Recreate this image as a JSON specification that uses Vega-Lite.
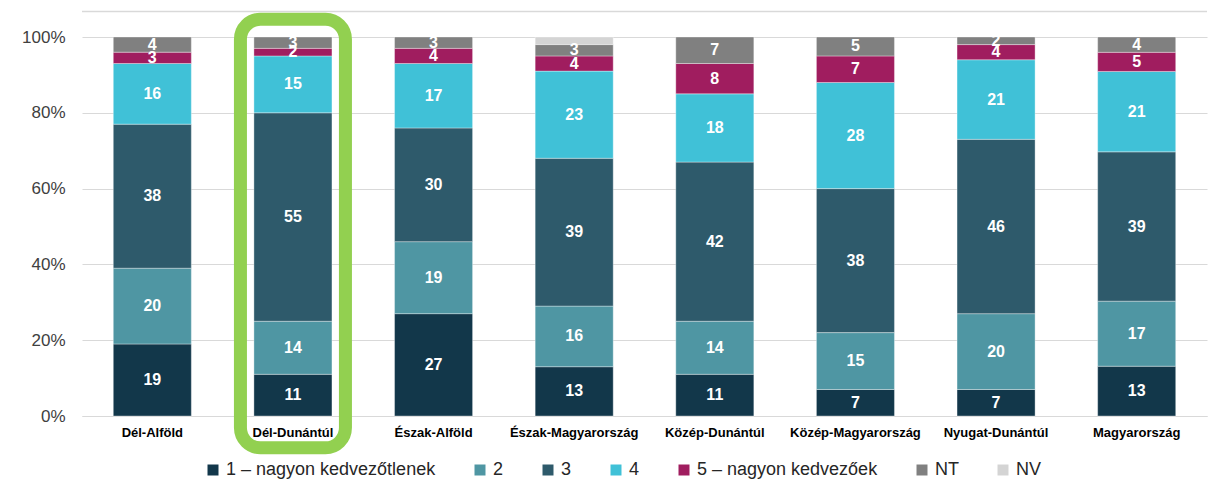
{
  "$schema": "https://vega.github.io/schema/vega-lite/v6.json",
  "width": 1125,
  "height": 379,
  "autosize": {"type": "none"},
  "padding": {"left": 82, "top": 37, "right": 1, "bottom": 78},
  "background": "#ffffff",
  "config": {"font": "Liberation Sans", "view": {"stroke": null}},
  "data": {
    "values": [
      {"r": "Dél-Alföld", "s": "1", "v": 19}, {"r": "Dél-Alföld", "s": "2", "v": 20}, {"r": "Dél-Alföld", "s": "3", "v": 38}, {"r": "Dél-Alföld", "s": "4", "v": 16}, {"r": "Dél-Alföld", "s": "5", "v": 3}, {"r": "Dél-Alföld", "s": "NT", "v": 4},
      {"r": "Dél-Dunántúl", "s": "1", "v": 11}, {"r": "Dél-Dunántúl", "s": "2", "v": 14}, {"r": "Dél-Dunántúl", "s": "3", "v": 55}, {"r": "Dél-Dunántúl", "s": "4", "v": 15}, {"r": "Dél-Dunántúl", "s": "5", "v": 2}, {"r": "Dél-Dunántúl", "s": "NT", "v": 3},
      {"r": "Észak-Alföld", "s": "1", "v": 27}, {"r": "Észak-Alföld", "s": "2", "v": 19}, {"r": "Észak-Alföld", "s": "3", "v": 30}, {"r": "Észak-Alföld", "s": "4", "v": 17}, {"r": "Észak-Alföld", "s": "5", "v": 4}, {"r": "Észak-Alföld", "s": "NT", "v": 3},
      {"r": "Észak-Magyarország", "s": "1", "v": 13}, {"r": "Észak-Magyarország", "s": "2", "v": 16}, {"r": "Észak-Magyarország", "s": "3", "v": 39}, {"r": "Észak-Magyarország", "s": "4", "v": 23}, {"r": "Észak-Magyarország", "s": "5", "v": 4}, {"r": "Észak-Magyarország", "s": "NT", "v": 3}, {"r": "Észak-Magyarország", "s": "NV", "v": 2},
      {"r": "Közép-Dunántúl", "s": "1", "v": 11}, {"r": "Közép-Dunántúl", "s": "2", "v": 14}, {"r": "Közép-Dunántúl", "s": "3", "v": 42}, {"r": "Közép-Dunántúl", "s": "4", "v": 18}, {"r": "Közép-Dunántúl", "s": "5", "v": 8}, {"r": "Közép-Dunántúl", "s": "NT", "v": 7},
      {"r": "Közép-Magyarország", "s": "1", "v": 7}, {"r": "Közép-Magyarország", "s": "2", "v": 15}, {"r": "Közép-Magyarország", "s": "3", "v": 38}, {"r": "Közép-Magyarország", "s": "4", "v": 28}, {"r": "Közép-Magyarország", "s": "5", "v": 7}, {"r": "Közép-Magyarország", "s": "NT", "v": 5},
      {"r": "Nyugat-Dunántúl", "s": "1", "v": 7}, {"r": "Nyugat-Dunántúl", "s": "2", "v": 20}, {"r": "Nyugat-Dunántúl", "s": "3", "v": 46}, {"r": "Nyugat-Dunántúl", "s": "4", "v": 21}, {"r": "Nyugat-Dunántúl", "s": "5", "v": 4}, {"r": "Nyugat-Dunántúl", "s": "NT", "v": 2},
      {"r": "Magyarország", "s": "1", "v": 13}, {"r": "Magyarország", "s": "2", "v": 17}, {"r": "Magyarország", "s": "3", "v": 39}, {"r": "Magyarország", "s": "4", "v": 21}, {"r": "Magyarország", "s": "5", "v": 5}, {"r": "Magyarország", "s": "NT", "v": 4}
    ]
  },
  "layer": [
    {
      "mark": {"type": "bar", "stroke": "#ffffff", "strokeWidth": 0.5, "strokeOpacity": 0.7},
      "encoding": {
        "x": {
          "field": "r", "type": "nominal",
          "scale": {"domain": ["Dél-Alföld", "Dél-Dunántúl", "Észak-Alföld", "Észak-Magyarország", "Közép-Dunántúl", "Közép-Magyarország", "Nyugat-Dunántúl", "Magyarország"], "paddingInner": 0.445, "paddingOuter": 0.2225},
          "axis": {"title": null, "labelAngle": 0, "labelFontSize": 13, "labelFontWeight": "bold", "labelColor": "#000000", "labelPadding": 10, "ticks": false, "domain": true, "domainColor": "#d9d9d9", "domainWidth": 1, "labelLimit": 300}
        },
        "y": {
          "field": "v", "type": "quantitative", "stack": "normalize",
          "scale": {"domain": [0, 1]},
          "axis": {"title": null, "format": "%", "values": [0, 0.2, 0.4, 0.6, 0.8, 1], "labelFontSize": 17, "labelColor": "#404040", "labelPadding": 17, "ticks": false, "domain": false, "grid": true, "gridColor": "#d9d9d9", "gridWidth": 1}
        },
        "color": {
          "field": "s", "type": "nominal",
          "scale": {"domain": ["1", "2", "3", "4", "5", "NT", "NV"], "range": ["#12374a", "#4f96a3", "#2e5a6b", "#40c1d7", "#a01d5f", "#808080", "#d4d4d4"]},
          "legend": {
            "orient": "none", "legendX": 122, "legendY": 424, "direction": "horizontal", "title": null,
            "symbolType": "square", "symbolSize": 121, "symbolStrokeWidth": 0,
            "labelFontSize": 18, "labelColor": "#262626", "labelOffset": 4, "columnPadding": 35, "labelLimit": 400,
            "labelExpr": "datum.label == '1' ? '1 – nagyon kedvezőtlenek' : datum.label == '5' ? '5 – nagyon kedvezőek' : datum.label"
          }
        },
        "order": {"field": "s", "type": "nominal"}
      }
    },
    {
      "mark": {"type": "text", "color": "#ffffff", "fontSize": 16, "fontWeight": "bold", "baseline": "middle", "align": "center"},
      "encoding": {
        "x": {"field": "r", "type": "nominal"},
        "y": {"field": "v", "type": "quantitative", "stack": "normalize", "bandPosition": 0.5},
        "detail": {"field": "s"},
        "order": {"field": "s", "type": "nominal"},
        "text": {"field": "v", "type": "quantitative"},
        "opacity": {"condition": {"test": "datum.s === 'NV'", "value": 0}, "value": 1}
      }
    },
    {
      "data": {"values": [{}]},
      "mark": {"type": "rule", "color": "#d9d9d9", "strokeWidth": 1.5, "clip": false},
      "encoding": {"y": {"datum": 1.067, "type": "quantitative"}}
    },
    {
      "data": {"values": [{}]},
      "mark": {"type": "rect", "fill": null, "stroke": "#92d050", "strokeWidth": 13, "cornerRadius": 20, "width": 105, "clip": false},
      "encoding": {
        "x": {"datum": "Dél-Dunántúl", "type": "nominal"},
        "y": {"datum": 1.047, "type": "quantitative"},
        "y2": {"datum": -0.084}
      }
    }
  ]
}
